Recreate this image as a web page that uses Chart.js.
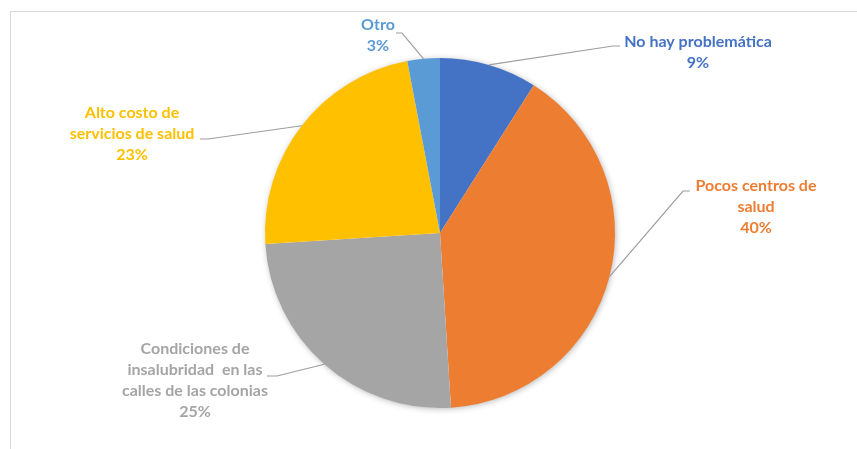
<!DOCTYPE html>
<html>
<head>
<meta charset="utf-8">
<script src="https://cdn.jsdelivr.net/npm/chart.js@4.4.1/dist/chart.umd.min.js"></script>
<style>
  html, body { margin: 0; padding: 0; background: #fff; }
  #wrap { width: 857px; height: 449px; }
</style>
</head>
<body>
<div id="wrap"><canvas id="pieChart" width="857" height="449"></canvas></div>
<script>
// data
const categories = ['No hay problemática', 'Pocos centros de salud', 'Condiciones de insalubridad en las calles de las colonias', 'Alto costo de servicios de salud', 'Otro'];
const labelLines = [
  ['No hay problemática'],
  ['Pocos centros de', 'salud'],
  ['Condiciones de', 'insalubridad  en las', 'calles de las colonias'],
  ['Alto costo de', 'servicios de salud'],
  ['Otro']
];
const percentages = [9, 40, 25, 23, 3];
const colors = ['#4472C4', '#ED7D31', '#A5A5A5', '#FFC000', '#5B9BD5'];

// where each label sits (text center x, first line y) and its leader line bend
const labelLayout = [
  { x: 698, y: 42, bend: [613, 46], end: [620, 46] },
  { x: 756, y: 186, bend: [683, 191], end: [690, 191] },
  { x: 195, y: 349, bend: [277, 376], end: [267, 376] },
  { x: 132, y: 113, bend: [208, 139], end: [200, 139] },
  { x: 378, y: 25, bend: [402, 33], end: [396, 33] }
];
const lineHeight = 21;

// frame + soft shadow under the pie
const backdrop = {
  id: 'backdrop',
  beforeDatasetsDraw(chart) {
    const ctx = chart.ctx;
    const arc = chart.getDatasetMeta(0).data[0];
    ctx.save();
    ctx.strokeStyle = '#D9D9D9';
    ctx.lineWidth = 1;
    ctx.strokeRect(10.5, 11.5, 900, 500);
    ctx.shadowColor = 'rgba(0,0,0,0.3)';
    ctx.shadowBlur = 6;
    ctx.shadowOffsetX = 1;
    ctx.shadowOffsetY = 1;
    ctx.fillStyle = '#fff';
    ctx.beginPath();
    ctx.arc(arc.x, arc.y, arc.outerRadius - 0.5, 0, Math.PI * 2);
    ctx.fill();
    ctx.restore();
  }
};

// labels with leader lines
const outsideLabels = {
  id: 'outsideLabels',
  afterDatasetsDraw(chart) {
    const ctx = chart.ctx;
    const meta = chart.getDatasetMeta(0);
    const total = percentages.reduce((a, b) => a + b, 0);
    ctx.save();
    meta.data.forEach((arc, i) => {
      const mid = (arc.startAngle + arc.endAngle) / 2;
      const sx = arc.x + Math.cos(mid) * arc.outerRadius;
      const sy = arc.y + Math.sin(mid) * arc.outerRadius;
      const lay = labelLayout[i];
      ctx.strokeStyle = '#9E9E9E';
      ctx.lineWidth = 1.2;
      ctx.beginPath();
      ctx.moveTo(sx, sy);
      ctx.lineTo(lay.bend[0], lay.bend[1]);
      ctx.lineTo(lay.end[0], lay.end[1]);
      ctx.stroke();

      const lines = labelLines[i].concat([Math.round(percentages[i] / total * 100) + '%']);
      ctx.fillStyle = colors[i];
      ctx.font = 'bold 16px Lato';
      ctx.textAlign = 'center';
      ctx.textBaseline = 'middle';
      lines.forEach((t, k) => ctx.fillText(t, lay.x, lay.y + k * lineHeight));
    });
    ctx.restore();
  }
};

new Chart(document.getElementById('pieChart'), {
  type: 'pie',
  data: {
    labels: categories,
    datasets: [{
      data: percentages,
      backgroundColor: colors,
      borderWidth: 0
    }]
  },
  options: {
    responsive: false,
    animation: false,
    layout: { padding: { left: 265, top: 58, right: 242, bottom: 41 } },
    plugins: {
      legend: { display: false },
      tooltip: { enabled: false }
    }
  },
  plugins: [backdrop, outsideLabels]
});
</script>
</body>
</html>
